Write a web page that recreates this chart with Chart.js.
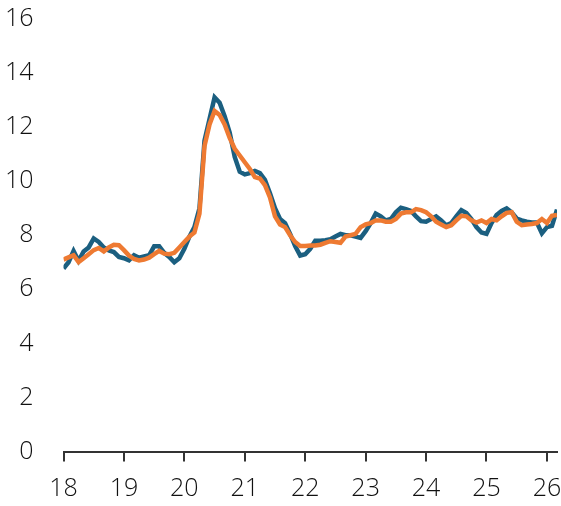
<!DOCTYPE html>
<html>
<head>
<meta charset="utf-8">
<script src="https://cdn.jsdelivr.net/npm/chart.js@4.4.1/dist/chart.umd.min.js"></script>
<style>
  html, body { margin: 0; padding: 0; background: #fff; }
  #wrap { width: 561px; height: 506px; }
</style>
</head>
<body>
<div id="wrap"><canvas id="chart"></canvas></div>
<script>
// Monthly series, Jan 2018 .. Mar 2026
const startYear = 2018;
const blueValues = [
  6.77, 7.0, 7.42, 7.05, 7.4, 7.55, 7.88, 7.75, 7.55, 7.44, 7.38, 7.2,   // 2018
  7.15, 7.07, 7.26, 7.17, 7.22, 7.26, 7.59, 7.59, 7.35, 7.2, 7.0, 7.15,  // 2019
  7.5, 7.95, 8.3, 9.0, 11.5, 12.3, 13.1, 12.9, 12.4, 11.8, 10.9, 10.35,  // 2020
  10.25, 10.3, 10.38, 10.3, 10.05, 9.55, 9.0, 8.6, 8.45, 8.05, 7.6, 7.25, // 2021
  7.3, 7.5, 7.8, 7.8, 7.82, 7.85, 7.95, 8.05, 8.0, 8.0, 7.95, 7.9,       // 2022
  8.15, 8.45, 8.8, 8.7, 8.55, 8.6, 8.85, 9.02, 8.97, 8.9, 8.7, 8.52,     // 2023
  8.5, 8.6, 8.7, 8.55, 8.37, 8.45, 8.7, 8.93, 8.82, 8.6, 8.3, 8.1,       // 2024
  8.05, 8.45, 8.75, 8.9, 8.99, 8.85, 8.62, 8.55, 8.5, 8.47, 8.47, 8.07,  // 2025
  8.3, 8.35, 8.95                                                        // 2026
];
const orangeValues = [
  7.1, 7.18, 7.26, 7.01, 7.15, 7.3, 7.45, 7.53, 7.4, 7.55, 7.65, 7.63,   // 2018
  7.45, 7.25, 7.12, 7.07, 7.1, 7.17, 7.3, 7.42, 7.32, 7.3, 7.35, 7.55,   // 2019
  7.75, 7.95, 8.1, 8.8, 11.3, 12.1, 12.6, 12.45, 12.1, 11.6, 11.2, 10.95, // 2020
  10.7, 10.45, 10.15, 10.1, 9.85, 9.4, 8.7, 8.4, 8.3, 8.0, 7.75, 7.6,    // 2021
  7.6, 7.62, 7.62, 7.65, 7.72, 7.78, 7.75, 7.72, 7.95, 8.0, 8.05, 8.3,   // 2022
  8.4, 8.45, 8.55, 8.55, 8.5, 8.5, 8.6, 8.8, 8.85, 8.85, 8.97, 8.93,     // 2023
  8.85, 8.7, 8.5, 8.4, 8.3, 8.37, 8.55, 8.72, 8.7, 8.55, 8.47, 8.55,     // 2024
  8.45, 8.6, 8.55, 8.7, 8.83, 8.85, 8.5, 8.37, 8.4, 8.42, 8.45, 8.6,     // 2025
  8.45, 8.72, 8.75                                                       // 2026
];
const yearLabels = ['18', '19', '20', '21', '22', '23', '24', '25', '26'];
const yTicks = [0, 2, 4, 6, 8, 10, 12, 14, 16];

// x position of each month in decimal years
const months = blueValues.map((_, i) => startYear + i / 12);

const font = { family: "'Open Sans', sans-serif", size: 25, weight: 300 };
const textColor = '#111111';
const axisColor = '#333333';

const ctx = document.getElementById('chart').getContext('2d');
new Chart(ctx, {
  type: 'line',
  data: {
    datasets: [
      {
        label: 'Blue',
        data: months.map((x, i) => ({ x: x, y: blueValues[i] })),
        borderColor: '#1b5f80',
        borderWidth: 4.5,
        pointRadius: 0,
        tension: 0,
        order: 1
      },
      {
        label: 'Orange',
        data: months.map((x, i) => ({ x: x, y: orangeValues[i] })),
        borderColor: '#ee7a32',
        borderWidth: 4.5,
        pointRadius: 0,
        tension: 0,
        order: 0   // drawn on top
      }
    ]
  },
  options: {
    responsive: true,
    maintainAspectRatio: false,
    animation: false,
    layout: { padding: { top: 19, right: 4, bottom: 0, left: 0 } },
    plugins: {
      legend: { display: false },
      tooltip: { enabled: false }
    },
    scales: {
      x: {
        type: 'linear',
        min: startYear,
        max: months[months.length - 1],
        border: { display: true, color: axisColor, width: 2 },
        grid: { drawOnChartArea: false, color: axisColor, lineWidth: 2, tickLength: 10 },
        ticks: {
          stepSize: 1,
          includeBounds: false,
          maxRotation: 0,
          autoSkip: false,
          padding: 12,
          font: font,
          color: textColor,
          callback: v => yearLabels[Math.round(v - startYear)]
        },
        afterFit: s => { s.height = 54.5; s.paddingLeft = 0; s.paddingRight = 0; }
      },
      y: {
        min: 0,
        max: 16,
        border: { display: false },
        grid: { display: false, drawTicks: false },
        afterBuildTicks: s => { s.ticks = yTicks.map(v => ({ value: v })); },
        ticks: {
          padding: 30,
          font: font,
          color: textColor
        },
        afterFit: s => { s.width = 63.5; s.paddingTop = 0; s.paddingBottom = 0; }
      }
    }
  }
});
</script>
</body>
</html>
